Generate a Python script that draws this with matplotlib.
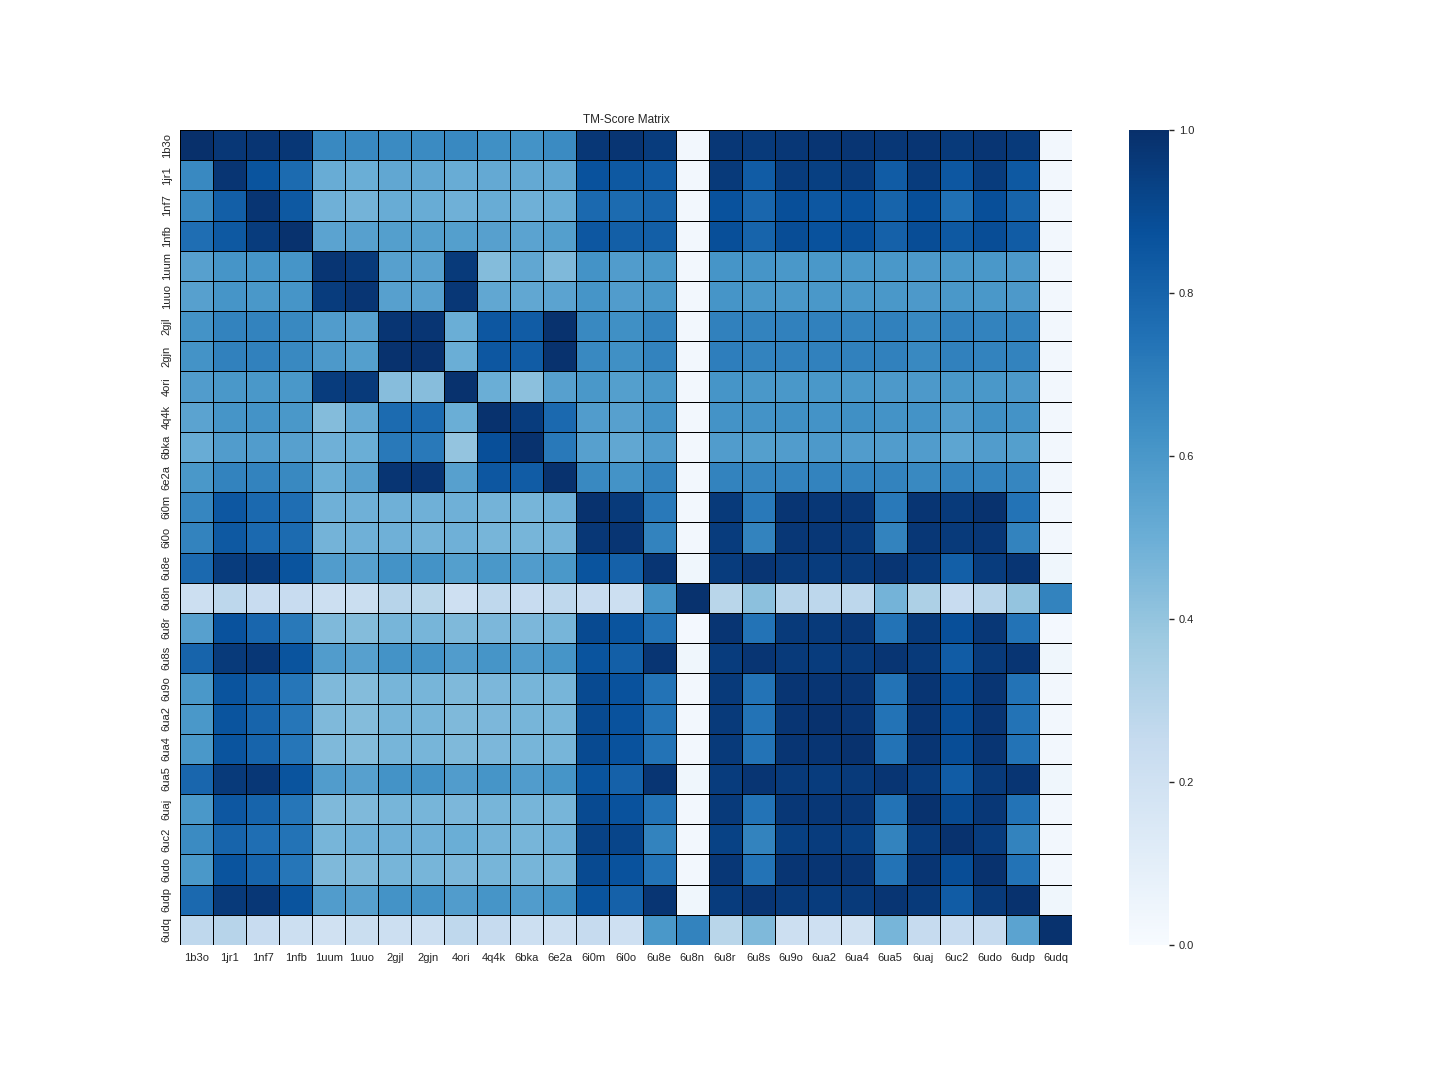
import numpy as np
import matplotlib
matplotlib.use('Agg')
import matplotlib.pyplot as plt
import seaborn as sns

plt.rcParams['font.family'] = ['Liberation Sans', 'DejaVu Sans']
plt.rcParams['text.color'] = '#262626'
plt.rcParams['xtick.color'] = '#262626'
plt.rcParams['ytick.color'] = '#262626'

nomes = ['1b3o', '1jr1', '1nf7', '1nfb', '1uum', '1uuo', '2gjl', '2gjn', '4ori',
         '4q4k', '6bka', '6e2a', '6i0m', '6i0o', '6u8e', '6u8n', '6u8r', '6u8s',
         '6u9o', '6ua2', '6ua4', '6ua5', '6uaj', '6uc2', '6udo', '6udp', '6udq']

# TM-score (linha = estrutura de referencia)
tm_score = [
    [1.00, 0.97, 0.98, 0.97, 0.66, 0.66, 0.65, 0.65, 0.66, 0.63, 0.62, 0.65, 0.97, 0.98, 0.95, 0.03, 0.97, 0.96, 0.97, 0.98, 0.98, 0.97, 0.98, 0.96, 0.98, 0.96, 0.03],
    [0.66, 0.98, 0.86, 0.77, 0.51, 0.50, 0.53, 0.53, 0.51, 0.52, 0.52, 0.53, 0.87, 0.84, 0.83, 0.03, 0.96, 0.83, 0.95, 0.94, 0.95, 0.83, 0.95, 0.85, 0.95, 0.84, 0.03],
    [0.66, 0.82, 0.98, 0.84, 0.49, 0.48, 0.51, 0.51, 0.49, 0.51, 0.49, 0.51, 0.78, 0.77, 0.80, 0.03, 0.87, 0.79, 0.88, 0.85, 0.87, 0.80, 0.88, 0.75, 0.88, 0.80, 0.03],
    [0.76, 0.84, 0.95, 0.99, 0.55, 0.56, 0.57, 0.57, 0.57, 0.56, 0.55, 0.57, 0.85, 0.82, 0.82, 0.03, 0.88, 0.80, 0.89, 0.87, 0.88, 0.81, 0.89, 0.84, 0.89, 0.83, 0.03],
    [0.56, 0.61, 0.61, 0.61, 0.98, 0.96, 0.56, 0.56, 0.96, 0.44, 0.53, 0.45, 0.62, 0.58, 0.60, 0.03, 0.61, 0.61, 0.60, 0.60, 0.60, 0.60, 0.59, 0.60, 0.60, 0.59, 0.03],
    [0.56, 0.61, 0.60, 0.61, 0.95, 0.98, 0.56, 0.56, 0.97, 0.53, 0.53, 0.55, 0.61, 0.58, 0.60, 0.03, 0.61, 0.60, 0.60, 0.60, 0.60, 0.60, 0.59, 0.60, 0.60, 0.59, 0.03],
    [0.62, 0.68, 0.68, 0.66, 0.58, 0.56, 0.98, 0.98, 0.50, 0.85, 0.83, 0.99, 0.66, 0.63, 0.68, 0.03, 0.69, 0.68, 0.69, 0.69, 0.68, 0.69, 0.66, 0.69, 0.68, 0.68, 0.03],
    [0.62, 0.69, 0.69, 0.66, 0.59, 0.57, 0.99, 0.99, 0.50, 0.85, 0.83, 0.99, 0.66, 0.63, 0.68, 0.03, 0.70, 0.68, 0.69, 0.69, 0.69, 0.69, 0.66, 0.69, 0.68, 0.68, 0.03],
    [0.58, 0.60, 0.60, 0.60, 0.95, 0.96, 0.43, 0.43, 0.99, 0.50, 0.42, 0.56, 0.60, 0.57, 0.60, 0.03, 0.61, 0.60, 0.60, 0.60, 0.60, 0.59, 0.59, 0.60, 0.60, 0.59, 0.03],
    [0.55, 0.61, 0.62, 0.60, 0.44, 0.52, 0.77, 0.77, 0.50, 0.99, 0.95, 0.78, 0.58, 0.56, 0.62, 0.03, 0.62, 0.62, 0.63, 0.62, 0.63, 0.62, 0.62, 0.58, 0.63, 0.62, 0.03],
    [0.51, 0.58, 0.58, 0.56, 0.49, 0.50, 0.72, 0.72, 0.40, 0.88, 0.99, 0.72, 0.56, 0.53, 0.58, 0.03, 0.58, 0.57, 0.58, 0.59, 0.58, 0.58, 0.58, 0.54, 0.58, 0.57, 0.03],
    [0.60, 0.68, 0.68, 0.66, 0.50, 0.56, 0.98, 0.98, 0.56, 0.85, 0.83, 0.99, 0.66, 0.62, 0.68, 0.03, 0.68, 0.67, 0.68, 0.68, 0.68, 0.68, 0.66, 0.68, 0.68, 0.67, 0.03],
    [0.67, 0.85, 0.78, 0.76, 0.49, 0.49, 0.49, 0.49, 0.49, 0.48, 0.47, 0.49, 0.99, 0.96, 0.72, 0.03, 0.96, 0.72, 0.98, 0.97, 0.97, 0.72, 0.98, 0.96, 0.99, 0.74, 0.03],
    [0.68, 0.84, 0.78, 0.77, 0.48, 0.49, 0.49, 0.48, 0.49, 0.47, 0.47, 0.48, 0.97, 0.98, 0.68, 0.03, 0.95, 0.68, 0.97, 0.97, 0.96, 0.68, 0.97, 0.96, 0.97, 0.68, 0.03],
    [0.78, 0.95, 0.95, 0.86, 0.58, 0.56, 0.62, 0.62, 0.57, 0.60, 0.58, 0.60, 0.86, 0.81, 0.98, 0.04, 0.95, 0.98, 0.96, 0.95, 0.96, 0.98, 0.95, 0.82, 0.95, 0.98, 0.04],
    [0.22, 0.28, 0.24, 0.24, 0.22, 0.23, 0.30, 0.29, 0.21, 0.27, 0.24, 0.27, 0.24, 0.22, 0.62, 0.99, 0.29, 0.42, 0.30, 0.28, 0.28, 0.48, 0.33, 0.24, 0.30, 0.40, 0.68],
    [0.56, 0.87, 0.79, 0.72, 0.45, 0.44, 0.47, 0.47, 0.45, 0.46, 0.46, 0.47, 0.90, 0.86, 0.74, 0.02, 0.98, 0.74, 0.96, 0.96, 0.97, 0.74, 0.96, 0.88, 0.97, 0.74, 0.02],
    [0.80, 0.96, 0.97, 0.86, 0.58, 0.56, 0.62, 0.62, 0.58, 0.61, 0.58, 0.61, 0.86, 0.82, 0.98, 0.04, 0.95, 0.98, 0.96, 0.95, 0.96, 0.98, 0.96, 0.83, 0.96, 0.98, 0.04],
    [0.60, 0.86, 0.80, 0.73, 0.45, 0.44, 0.47, 0.47, 0.45, 0.46, 0.47, 0.47, 0.90, 0.87, 0.74, 0.03, 0.96, 0.74, 0.98, 0.98, 0.98, 0.74, 0.98, 0.89, 0.98, 0.74, 0.03],
    [0.60, 0.86, 0.80, 0.73, 0.45, 0.44, 0.47, 0.47, 0.45, 0.46, 0.47, 0.47, 0.90, 0.87, 0.74, 0.03, 0.96, 0.74, 0.98, 0.99, 0.98, 0.74, 0.98, 0.89, 0.98, 0.74, 0.03],
    [0.60, 0.86, 0.80, 0.73, 0.45, 0.44, 0.47, 0.47, 0.45, 0.46, 0.47, 0.47, 0.90, 0.87, 0.74, 0.03, 0.96, 0.74, 0.98, 0.98, 0.99, 0.74, 0.98, 0.89, 0.98, 0.74, 0.03],
    [0.79, 0.96, 0.97, 0.86, 0.58, 0.56, 0.62, 0.62, 0.58, 0.61, 0.58, 0.61, 0.86, 0.81, 0.98, 0.04, 0.95, 0.98, 0.96, 0.95, 0.96, 0.98, 0.95, 0.83, 0.96, 0.98, 0.04],
    [0.60, 0.85, 0.80, 0.73, 0.45, 0.45, 0.47, 0.47, 0.46, 0.47, 0.47, 0.47, 0.90, 0.87, 0.74, 0.03, 0.96, 0.74, 0.97, 0.97, 0.97, 0.74, 0.99, 0.90, 0.97, 0.74, 0.03],
    [0.65, 0.80, 0.76, 0.74, 0.47, 0.49, 0.49, 0.49, 0.50, 0.48, 0.47, 0.49, 0.93, 0.92, 0.68, 0.03, 0.93, 0.68, 0.94, 0.95, 0.94, 0.68, 0.95, 0.99, 0.95, 0.68, 0.03],
    [0.60, 0.86, 0.80, 0.73, 0.45, 0.45, 0.47, 0.47, 0.46, 0.47, 0.47, 0.47, 0.90, 0.87, 0.74, 0.03, 0.97, 0.74, 0.98, 0.98, 0.98, 0.74, 0.98, 0.89, 0.99, 0.74, 0.03],
    [0.78, 0.96, 0.97, 0.86, 0.58, 0.56, 0.62, 0.62, 0.58, 0.61, 0.58, 0.61, 0.86, 0.81, 0.98, 0.04, 0.95, 0.98, 0.96, 0.95, 0.96, 0.98, 0.96, 0.83, 0.96, 0.99, 0.04],
    [0.27, 0.30, 0.24, 0.22, 0.20, 0.23, 0.22, 0.22, 0.27, 0.25, 0.22, 0.22, 0.25, 0.21, 0.60, 0.68, 0.29, 0.45, 0.22, 0.21, 0.20, 0.47, 0.25, 0.24, 0.25, 0.55, 0.99],
]

matriz = np.array(tm_score)

fig = plt.figure(figsize=(14.4, 10.8), dpi=100)
ax = fig.add_axes([180 / 1440, 135 / 1080, 892 / 1440, 815 / 1080])
cax = fig.add_axes([1129 / 1440, 135 / 1080, 40 / 1440, 815 / 1080])

sns.heatmap(matriz, ax=ax, cbar_ax=cax, cmap='Blues', vmin=0, vmax=1,
            linewidths=0.7, linecolor='black',
            xticklabels=nomes, yticklabels=nomes)

ax.set_title('TM-Score Matrix', fontsize=8.5, pad=5)
ax.tick_params(axis='both', length=0, labelsize=8, pad=6)
ax.set_xticklabels(nomes, rotation=0)
ax.set_yticklabels(nomes, rotation=90, va='center')

cax.tick_params(labelsize=8, length=3.5, width=1)
cax.set_yticks([0, 0.2, 0.4, 0.6, 0.8, 1.0])

fig.savefig('out.png', dpi=100)
